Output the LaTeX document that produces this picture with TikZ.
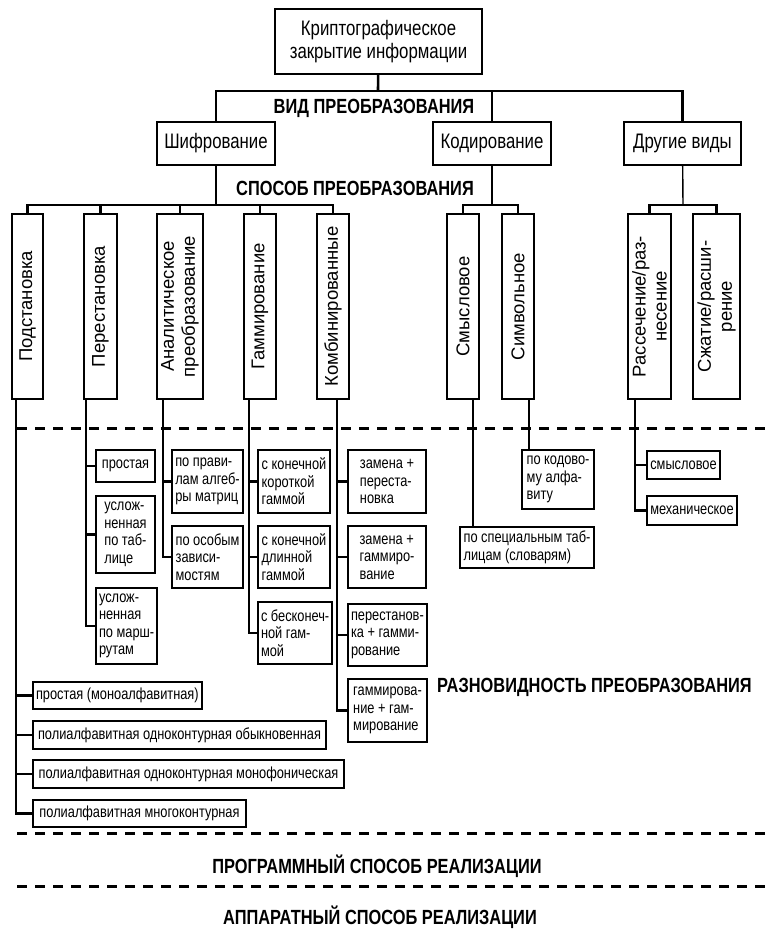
\documentclass[tikz,border=0pt]{standalone}
\usepackage{fontspec}
\setmainfont{Liberation Sans}[FakeStretch=0.8]
\newfontfamily\uprightfam{Liberation Sans}
\usetikzlibrary{positioning,calc}

\newcommand\mainfs{\fontsize{21}{23}\selectfont}
\newcommand\vertfs{\uprightfam\fontsize{18.5}{21}\selectfont}
\newcommand\subfs{\fontsize{16}{17.5}\selectfont}
\newcommand\headfs{\fontsize{20.5}{22}\selectfont\bfseries}

\tikzset{
  box/.style 2 args={draw, line width=2pt, fill=white, inner sep=2pt,
    align=center, font=\mainfs, minimum width=#1, minimum height=#2},
  vbox/.style={draw, line width=2pt, fill=white, inner sep=2pt, rotate=90,
    align=center, font=\vertfs, minimum width=185, minimum height=#1},
  sub/.style 2 args={draw, line width=2pt, fill=white, anchor=north west,
    inner xsep=3pt, inner ysep=0pt, align=left, font=\subfs,
    minimum width=#1, minimum height=#2},
  head/.style={font=\headfs, inner sep=0pt},
  conn/.style={line width=2.6pt},
  thinconn/.style={line width=1.4pt},
  sepline/.style={line width=3pt, dash pattern=on 10pt off 8pt}
}

\begin{document}
\begin{tikzpicture}[x=1pt, y=-1pt]
\useasboundingbox (0,0) rectangle (767,931);

% dividing lines
\foreach \y in {428,833,886}
  \draw[sepline] (17,\y) -- (767,\y);

% top level
\node[box={207}{65}] (top) at (378.5,41.5) {Криптографическое\\закрытие информации};
\node[box={118}{43}] (shf) at (216,143.5) {Шифрование};
\node[box={118}{43}] (kod) at (492,143.5) {Кодирование};
\node[box={117}{43}] (dr) at (682.5,143.5) {Другие виды};

\coordinate (vb) at (378,91);
\draw[conn] (top) -- (vb);
\foreach \n in {shf,kod,dr}
  \draw[conn] (vb) -| (\n);

\node[head] (vid) at (374,108) {ВИД ПРЕОБРАЗОВАНИЯ};
\node[head] (sposob) at (355,188) {СПОСОБ ПРЕОБРАЗОВАНИЯ};

% second level
\node[vbox=31] (pod) at (27.5,306.5) {Подстановка};
\node[vbox=33] (per) at (100.5,306.5) {Перестановка};
\node[vbox=46] (an) at (180,306.5) {Аналитическое\\преобразование};
\node[vbox=32] (gam) at (260,306.5) {Гаммирование};
\node[vbox=32] (kom) at (333,306.5) {Комбинированные};
\node[vbox=32] (sm) at (463,306.5) {Смысловое};
\node[vbox=32] (sim) at (518,306.5) {Символьное};
\node[vbox=43] (ras) at (649.5,306.5) {Рассечение/раз-\\несение};
\node[vbox=47] (szh) at (716.5,306.5) {Сжатие/расши-\\рение};

\coordinate (sb) at (216,205);
\coordinate (kb) at (492,205);
\coordinate (db) at (683,205);
\draw[conn] (shf) -- (sb);
\draw[conn] (kod) -- (kb);
\draw[thinconn] (dr) -- (db);
\foreach \n in {pod,per,an,gam,kom}
  \draw[conn] (sb) -| (\n);
\foreach \n in {sm,sim}
  \draw[conn] (kb) -| (\n);
\foreach \n in {ras,szh}
  \draw[conn] (db) -| (\n);

% third level
\node[sub={59}{32}] (pr1) at (95,449) {простая};
\node[sub={59}{77}] (pr2) at (95,495) {услож-\\ненная\\по таб-\\лице};
\node[sub={59}{76}] (pr3) at (95,587) {услож-\\ненная\\по марш-\\рутам};

\node[sub={71}{63}] (an1) at (171,449) {по прави-\\лам алгеб-\\ры матриц};
\node[sub={71}{62}] (an2) at (171,525) {по особым\\зависи-\\мостям};

\node[sub={72}{63}] (g1) at (257,449) {с конечной\\короткой\\гаммой};
\node[sub={72}{62}] (g2) at (257,525) {с конечной\\длинной\\гаммой};
\node[sub={72}{62}] (g3) at (257,601) {с бесконеч-\\ной гам-\\мой};

\node[sub={78}{63}] (k1) at (347,449) {замена +\\переста-\\новка};
\node[sub={78}{62}] (k2) at (347,525) {замена +\\гаммиро-\\вание};
\node[sub={78}{62}] (k3) at (347,603) {перестанов-\\ка + гамми-\\рование};
\node[sub={79}{63}] (k4) at (347,678) {гаммирова-\\ние + гам-\\мирование};

\node[sub={134}{41}] (sm1) at (459,526) {по специальным таб-\\лицам (словарям)};
\node[sub={72}{59}] (si1) at (521,449) {по кодово-\\му алфа-\\виту};

\node[sub={73}{28}] (r1) at (646,450) {смысловое};
\node[sub={90}{29}] (r2) at (646,495) {механическое};

\node[sub={167}{27}] (p1) at (32,681) {простая (моноалфавитная)};
\node[sub={293}{28}] (p2) at (32,720) {полиалфавитная одноконтурная обыкновенная};
\node[sub={311}{28}] (p3) at (32,759) {полиалфавитная одноконтурная монофоническая};
\node[sub={213}{27}] (p4) at (32,799) {полиалфавитная многоконтурная};

\coordinate (podT) at (16,399);
\coordinate (perT) at (86,399);
\coordinate (anT) at (163,399);
\coordinate (gamT) at (249,399);
\coordinate (komT) at (337,399);
\coordinate (smT) at (473,399);
\coordinate (simT) at (529,399);
\coordinate (rasT) at (635,399);

\foreach \n in {p1,p2,p3,p4}
  \draw[conn] (podT) |- (\n.west);
\foreach \n in {pr1,pr2,pr3}
  \draw[conn] (perT) |- (\n.west);
\foreach \n in {an1,an2}
  \draw[conn] (anT) |- (\n.west);
\foreach \n in {g1,g2,g3}
  \draw[conn] (gamT) |- (\n.west);
\foreach \n in {k1,k2,k3,k4}
  \draw[conn] (komT) |- (\n.west);
\foreach \n in {r1,r2}
  \draw[conn] (rasT) |- (\n.west);
\draw[conn] (smT) -- (smT |- sm1.north);
\draw[conn] (simT) -- (simT |- si1.north);

\node[head, anchor=west] (razn) at (437,687) {РАЗНОВИДНОСТЬ ПРЕОБРАЗОВАНИЯ};
\node[head] (prog) at (377,866) {ПРОГРАММНЫЙ СПОСОБ РЕАЛИЗАЦИИ};
\node[head] (appar) at (380,917) {АППАРАТНЫЙ СПОСОБ РЕАЛИЗАЦИИ};
\end{tikzpicture}
\end{document}
